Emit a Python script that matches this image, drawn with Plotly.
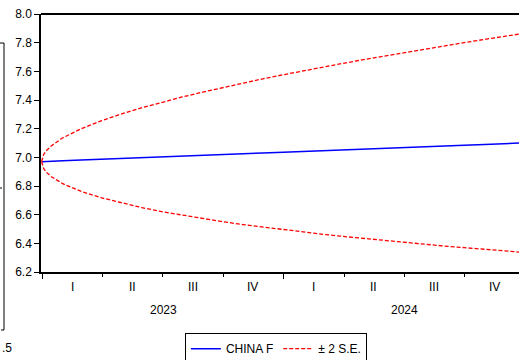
import plotly.graph_objects as go

# Forecast dates (daily forecast, sampled)
dates = [
    "2022-12-30", "2023-01-02", "2023-01-06", "2023-01-13", "2023-01-31",
    "2023-02-28", "2023-03-31", "2023-04-30", "2023-05-31", "2023-06-30",
    "2023-07-31", "2023-08-31", "2023-09-30", "2023-10-31", "2023-11-30",
    "2023-12-31", "2024-01-31", "2024-02-29", "2024-03-31", "2024-04-30",
    "2024-05-31", "2024-06-30", "2024-07-31", "2024-08-31", "2024-09-30",
    "2024-10-31", "2024-11-30", "2024-12-31",
]

# Point forecast CHINAF
china_f = [
    6.970, 6.971, 6.971, 6.973, 6.976, 6.981, 6.986, 6.992, 6.997, 7.003,
    7.008, 7.014, 7.019, 7.025, 7.030, 7.036, 7.041, 7.047, 7.052, 7.057,
    7.063, 7.068, 7.074, 7.080, 7.085, 7.090, 7.096, 7.101,
]

# Upper / lower +/- 2 S.E. bands
upper_se = [
    6.970, 7.020, 7.046, 7.078, 7.136, 7.200, 7.256, 7.303, 7.346, 7.384,
    7.421, 7.455, 7.487, 7.518, 7.548, 7.576, 7.605, 7.630, 7.656, 7.681,
    7.706, 7.730, 7.754, 7.778, 7.800, 7.823, 7.844, 7.866,
]
lower_se = [
    6.970, 6.922, 6.897, 6.867, 6.816, 6.762, 6.717, 6.681, 6.649, 6.621,
    6.596, 6.572, 6.551, 6.531, 6.513, 6.495, 6.478, 6.463, 6.448, 6.434,
    6.420, 6.407, 6.394, 6.381, 6.370, 6.358, 6.347, 6.336,
]

y_ticks = [6.2, 6.4, 6.6, 6.8, 7.0, 7.2, 7.4, 7.6, 7.8, 8.0]
quarter_labels = ["I", "II", "III", "IV", "I", "II", "III", "IV"]
quarter_mid = ["2023-02-15", "2023-05-16", "2023-08-16", "2023-11-15",
               "2024-02-15", "2024-05-16", "2024-08-16", "2024-11-15"]
years = ["2023", "2024"]
year_mid = ["2023-07-02", "2024-07-02"]

FONT = "Liberation Sans, Arial, sans-serif"

fig = go.Figure()
fig.add_trace(go.Scatter(
    x=dates, y=china_f, mode="lines", name="CHINA F",
    line=dict(color="#0000FF", width=1.5),
))
fig.add_trace(go.Scatter(
    x=dates, y=upper_se, mode="lines", name="\u00b1 2 S.E.",
    line=dict(color="#FF0000", width=1.3, dash="4px,2px"),
))
fig.add_trace(go.Scatter(
    x=dates, y=lower_se, mode="lines", name="\u00b1 2 S.E.", showlegend=False,
    line=dict(color="#FF0000", width=1.3, dash="4px,2px"),
))

annotations = []
for lab, xm in zip(quarter_labels, quarter_mid):
    annotations.append(dict(x=xm, y=-0.058, xref="x", yref="paper", text=lab,
                            showarrow=False, font=dict(size=12, color="black", family=FONT),
                            xanchor="center", yanchor="middle"))
for lab, xm in zip(years, year_mid):
    annotations.append(dict(x=xm, y=-0.147, xref="x", yref="paper", text=lab,
                            showarrow=False, font=dict(size=12, color="black", family=FONT),
                            xanchor="center", yanchor="middle"))
# fragment of a neighbouring panel at the left edge
annotations.append(dict(x=-41 / 478, y=-0.2946, xref="paper", yref="paper", text=".5",
                        showarrow=False, font=dict(size=12, color="black", family=FONT),
                        xanchor="left", yanchor="middle"))

shapes = [
    # top frame line
    dict(type="line", xref="paper", yref="paper", x0=0, x1=1, y0=1, y1=1,
         line=dict(color="black", width=2)),
    # neighbouring panel frame on the far left
    dict(type="line", xref="paper", yref="paper", x0=-37 / 478, x1=-37 / 478,
         y0=(272 - 43) / 258, y1=(272 - 330) / 258, line=dict(color="black", width=1)),
    dict(type="line", xref="paper", yref="paper", x0=-41 / 478, x1=-37 / 478,
         y0=(272 - 43) / 258, y1=(272 - 43) / 258, line=dict(color="black", width=1)),
    dict(type="line", xref="paper", yref="paper", x0=-40 / 478, x1=-37 / 478,
         y0=(272 - 330) / 258, y1=(272 - 330) / 258, line=dict(color="black", width=1)),
    dict(type="line", xref="paper", yref="paper", x0=-41 / 478, x1=-39 / 478,
         y0=(272 - 188) / 258, y1=(272 - 188) / 258, line=dict(color="black", width=1)),
]

fig.update_layout(
    width=519, height=360,
    margin=dict(l=41, r=0, t=14, b=88, autoexpand=False),
    paper_bgcolor="white", plot_bgcolor="white",
    font=dict(family=FONT, size=12, color="black"),
    showlegend=True,
    legend=dict(orientation="h", x=0.301, y=-0.237, xanchor="left", yanchor="top",
                bordercolor="black", borderwidth=1, bgcolor="white",
                font=dict(size=12, family=FONT, color="black"),
                itemwidth=30, tracegroupgap=0),
    annotations=annotations,
    shapes=shapes,
)
fig.update_xaxes(
    type="date", range=["2022-12-29", "2024-12-22"],
    showgrid=False, zeroline=False, showticklabels=False,
    showline=True, linecolor="black", linewidth=2,
    ticks="outside", tick0="2023-01-01", dtick="M12", ticklen=5, tickwidth=1, tickcolor="black",
    minor=dict(ticks="outside", tick0="2023-01-01", dtick="M3", ticklen=3, tickwidth=1,
               tickcolor="black", showgrid=False),
)
fig.update_yaxes(
    range=[6.2, 8.0], tickvals=y_ticks, ticktext=[f"{v:.1f}" for v in y_ticks],
    showgrid=False, zeroline=False,
    showline=True, linecolor="black", linewidth=1.5,
    ticks="outside", ticklen=5, tickwidth=1, tickcolor="black",
    tickfont=dict(size=12, family=FONT, color="black"),
)

fig.write_html("out.html")
